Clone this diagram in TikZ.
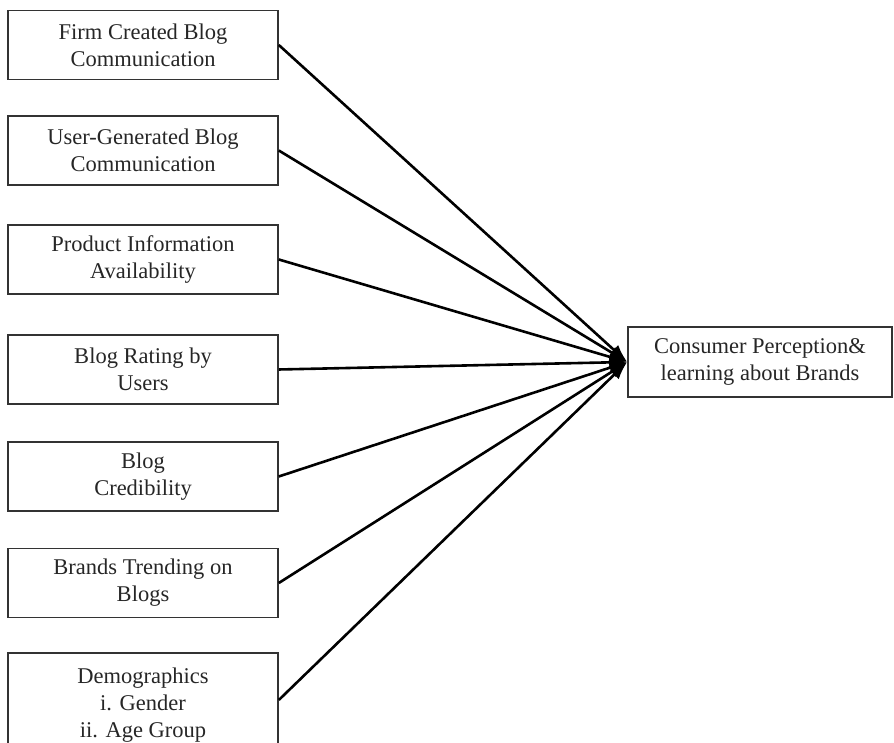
\documentclass[tikz,border=0pt]{standalone}
\usepackage{fontspec}
\setmainfont{Liberation Serif}
\usetikzlibrary{arrows.meta}
\begin{document}
\begin{tikzpicture}[x=1pt,y=1pt,
  lbox/.style={draw=black!80, line width=1.6pt, minimum width=270pt, minimum height=69pt,
    inner sep=0pt, align=center, font=\fontsize{22.5}{27}\selectfont, text=black!85},
  conn/.style={line width=2.6pt, -{Latex[length=18pt,width=13pt]}}]
\useasboundingbox (0,0) rectangle (894,743);
\node[lbox] (b1) at (143,698) {Firm Created Blog\\Communication};
\node[lbox] (b2) at (143,592.5) {User-Generated Blog\\Communication};
\node[lbox] (b3) at (143,483.5) {Product Information\\Availability};
\node[lbox] (b4) at (143,373.5) {Blog Rating by\\Users};
\node[lbox] (b5) at (143,266.5) {Blog\\Credibility};
\node[lbox] (b6) at (143,160) {Brands Trending on\\Blogs};
\node[lbox, minimum height=104pt] (b7) at (143,38) {Demographics\\i. Gender\\ii. Age Group};
\node[lbox, minimum width=264pt, minimum height=70pt] (cp) at (760,381) {Consumer Perception\&\\learning about Brands};
\foreach \b in {b1,b2,b3,b4,b5,b6}
  \draw[conn] (\b.east) -- (cp.west);
\draw[conn] ([yshift=5pt]b7.east) -- (cp.west);
\end{tikzpicture}
\end{document}
